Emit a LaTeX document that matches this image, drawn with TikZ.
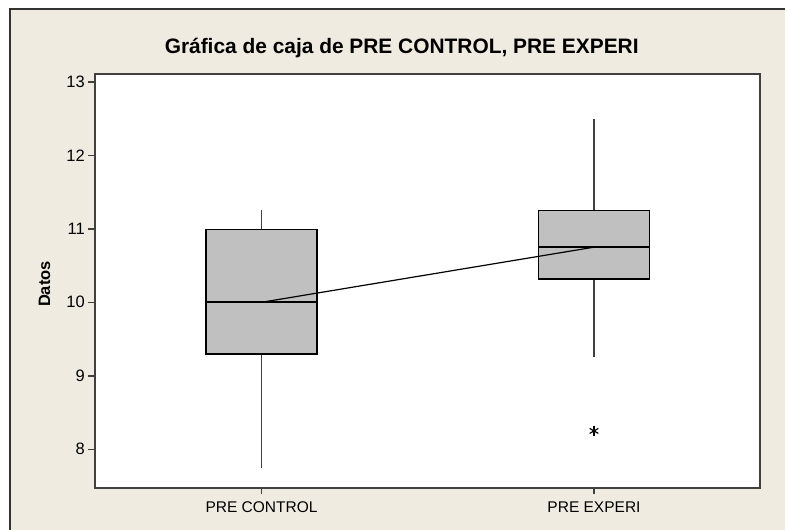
\documentclass[tikz,border=0pt]{standalone}
\usepackage{fontspec}
\setmainfont{Liberation Sans}
\usetikzlibrary{positioning}
\definecolor{panelbg}{RGB}{239,235,225}
\definecolor{boxgray}{RGB}{192,192,192}
\definecolor{axisgray}{RGB}{64,64,64}

\begin{document}
\begin{tikzpicture}[
x=1pt, y=1pt,
title/.style={font=\fontsize{20.9}{24}\selectfont\bfseries, anchor=base, inner sep=0pt},
ticklabel/.style={font=\fontsize{16.5}{19}\selectfont, anchor=east, inner sep=0pt},
grouplabel/.style={font=\fontsize{15.5}{18}\selectfont, anchor=base, inner sep=0pt},
axislabel/.style={font=\fontsize{16.5}{19}\selectfont\bfseries, rotate=90, inner sep=0pt},
tickmark/.style={draw=axisgray, line width=1.5pt},
whisker/.style={draw=axisgray, line width=1.6pt},
boxbody/.style={draw=black, fill=boxgray, line width=1.6pt},
medianline/.style={draw=black, line width=1.6pt},
linkline/.style={draw=black, line width=1.2pt}
]
\useasboundingbox (0,0) rectangle (785,530);
\clip (0,0) rectangle (785,530);
\fill[white] (0,0) rectangle (785,530);
\draw[fill=panelbg, draw=black!80, line width=1.2pt] (10,-10) rectangle (800,521);
\draw[fill=white, draw=axisgray, line width=1.8pt] (95,42) coordinate (plotSW) rectangle (760.3,456) coordinate (plotNE);

\node[title] (title) at (401.7,476) {Gráfica de caja de PRE CONTROL, PRE EXPERI};
\node[axislabel] (ylabel) at (44.5,246) {Datos};

\foreach \x/\name/\txt in {261.5/ctrl/PRE CONTROL, 594/expr/PRE EXPERI} {
  \draw[tickmark] (\x,42) -- (\x,36);
  \node[grouplabel] (lab\name) at (\x,17.3) {\txt};
}

\begin{scope}[shift={(0,-507.3)}, y=73.5pt]
\foreach \v in {8,...,13} {
  \draw[tickmark] (88,\v) -- (95,\v);
  \node[ticklabel] (tick\v) at (85,\v) {\v};
}
\foreach \x/\lo/\qa/\med/\qb/\hi/\name in {261.5/7.75/9.3/10/10.99/11.25/ctrl, 594/9.25/10.32/10.75/11.25/12.5/expr} {
  \coordinate (lo\name) at (\x,\lo);
  \coordinate (hi\name) at (\x,\hi);
  \coordinate (qa\name) at (\x,\qa);
  \coordinate (qb\name) at (\x,\qb);
  \coordinate (med\name) at (\x,\med);
  \draw[whisker] (lo\name) -- (qa\name);
  \draw[whisker] (qb\name) -- (hi\name);
  \draw[boxbody] ([xshift=-55.5pt]qa\name) rectangle ([xshift=55.5pt]qb\name);
  \draw[medianline] ([xshift=-55.5pt]med\name) -- ([xshift=55.5pt]med\name);
}
\draw[linkline] (medctrl) -- (medexpr);
\coordinate (outexpr) at (594,8.25);
\foreach \a in {90,30,150}
  \draw[black, line width=1.2pt] (outexpr) ++(\a:5pt) -- ++(\a+180:10pt);
\end{scope}

\end{tikzpicture}
\end{document}
